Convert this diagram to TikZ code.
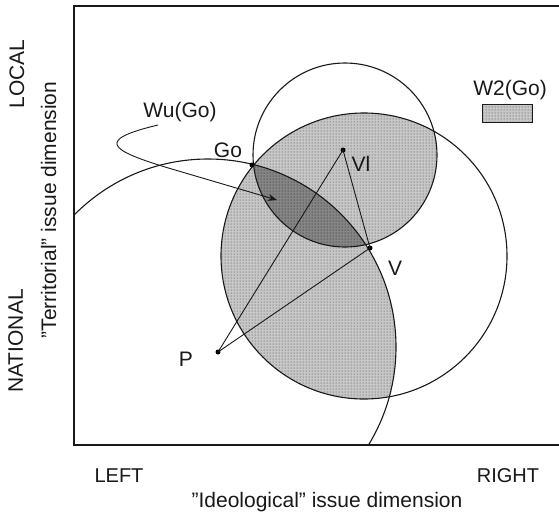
\documentclass[tikz,border=0pt]{standalone}
\usepackage{fontspec}
\setmainfont{Liberation Sans}
\usetikzlibrary{patterns,arrows.meta}
\begin{document}
\begin{tikzpicture}[x=1pt,y=-1pt,
  lbl/.style={font=\fontsize{21}{24}\selectfont, inner sep=0pt, anchor=base, text=black!90},
  axlbl/.style={font=\fontsize{20}{24}\selectfont, inner sep=0pt, anchor=base, text=black!90},
  circ/.style={line width=1.1pt, black!90},
  pt/.style={circle, fill=black, inner sep=0pt, minimum size=5pt},
  lightfill/.style={fill=black!22, postaction={pattern=dots, pattern color=black!75}},
  darkfill/.style={fill=black!48, postaction={pattern=dots, pattern color=black!90}},
  seg/.style={line width=0.9pt, black!90}
]
\useasboundingbox (0,0) rectangle (559,515);
\fill[white] (0,0) rectangle (559,515);

% circle centres
\coordinate (cVl) at (345,155);
\coordinate (cV) at (364,256);
\coordinate (cP) at (208,347);

% W2(Go) region
\begin{scope}
  \clip (cV) circle [radius=143];
  \fill[lightfill] (cVl) circle [radius=92];
  \fill[lightfill] (cP) circle [radius=188];
\end{scope}
% Wu(Go) region
\begin{scope}
  \clip (cVl) circle [radius=92];
  \clip (cV) circle [radius=143];
  \fill[darkfill] (cP) circle [radius=188];
\end{scope}

% circles, clipped to frame
\begin{scope}
  \clip (74,6) rectangle (600,445);
  \draw[circ] (cVl) circle [radius=92];
  \draw[circ] (cV) circle [radius=143];
  \draw[circ] (cP) circle [radius=188];
\end{scope}

% frame
\draw[line width=2pt, black!90] (600,6) -- (74,6) -- (74,445) -- (600,445);

% points
\node[pt] (Go) at (252,165) {};
\node[pt] (Vl) at (343,150) {};
\node[pt] (V) at (370,248) {};
\node[pt] (P) at (218,352) {};
\coordinate (star) at (277,200);

\draw[seg] (P.center) -- (Vl.center);
\draw[seg] (P.center) -- (V.center);
\draw[seg] (Vl.center) -- (V.center);

% leader for Wu(Go)
\coordinate (wuTail) at (158,125);
\coordinate (wuBend) at (165,167);
\draw[seg, -{Stealth[length=9pt,width=7pt]}] (wuTail) .. controls (95,140) and (110,150) .. (wuBend) -- (star);

% labels
\node[lbl] (lGo) at (228,157) {Go};
\node[lbl] (lWu) at (180,117) {Wu(Go)};
\node[lbl] (lW2) at (510,95) {W2(Go)};
\node[lbl] (lVl) at (361,171) {Vl};
\node[lbl] (lV) at (395,275) {V};
\node[lbl] (lP) at (186,366) {P};
\node[draw=black!90, line width=0.8pt, lightfill, minimum width=50pt, minimum height=18pt, inner sep=0pt] (legend) at (507,113) {};

\node[axlbl] (lLeft) at (119,482) {LEFT};
\node[axlbl] (lRight) at (508,482) {RIGHT};
\node[lbl] (lIdeo) at (327,507) {\symbol{34}Ideological\symbol{34} issue dimension};
\node[lbl, rotate=90] (lLocal) at (24,74) {LOCAL};
\node[lbl, rotate=90] (lNat) at (23,341) {NATIONAL};
\node[lbl, rotate=90] (lTerr) at (56,210) {\symbol{34}Territorial\symbol{34} issue dimension};
\end{tikzpicture}
\end{document}
